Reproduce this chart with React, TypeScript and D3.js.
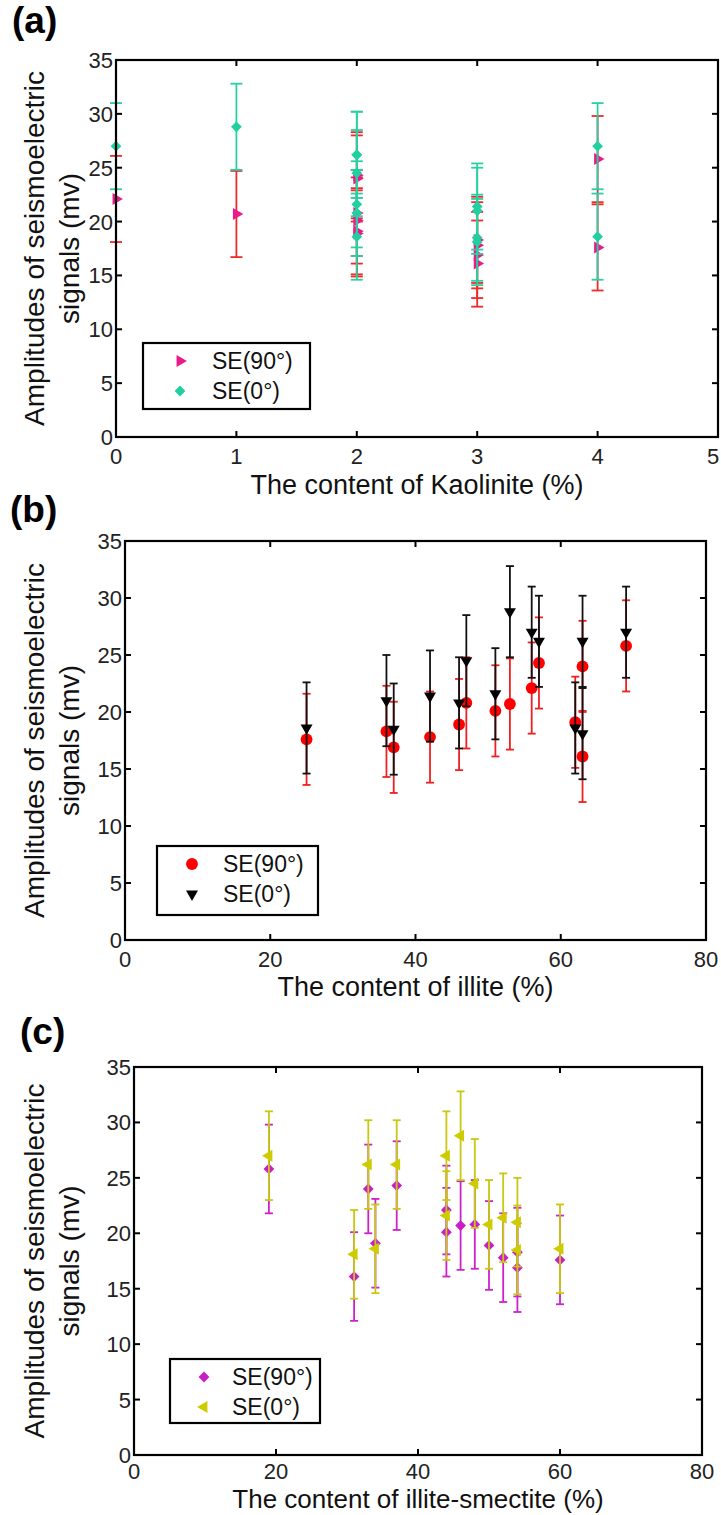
import React from "react";
import * as d3 from "d3";

const width = 721;
const height = 1515;

// 14 samples, the same measurements are plotted against three clay contents
const se90 = [17.6, 18.3, 16.9, 17.8, 18.9, 20.8, 20.1, 20.7, 22.1, 24.3, 19.1, 24.0, 16.1, 25.8];
const se0 = [18.6, 21.0, 18.5, 21.4, 20.8, 24.5, 21.6, 28.8, 27.0, 26.2, 18.6, 26.2, 18.1, 27.0];
const se90Err = [4, 4, 4, 4, 4, 4, 4, 4, 4, 4, 4, 4, 4, 4];
const se0Err = [4, 4, 4, 4, 4, 4, 4, 4, 4, 4, 4, 4, 4, 4];

const kaolinite = [4, 3, 3, 3, 2, 2, 2, 1, 0, 2, 2, 2, 3, 4];
const illite = [25, 36, 37, 42, 46, 47, 51, 53, 56, 57, 62, 63, 63, 69];
const illiteSmectite = [60, 54, 54, 52, 50, 48, 44, 46, 44, 37, 34, 33, 31, 19];

const yTicks = [0, 5, 10, 15, 20, 25, 30, 35];
const kaoliniteTicks = [0, 1, 2, 3, 4, 5];
const contentTicks = [0, 20, 40, 60, 80];
const legendLabels = ["SE(90°)", "SE(0°)"];

const font = "'Liberation Sans', Arial, sans-serif";

type Series = { values: number[]; err: number[]; marker: string; fill: string; errColor: string };

const panels = [
  {
    letter: "(a)", letterX: 12, letterY: 33,
    box: { left: 116, right: 718, top: 60, bottom: 437 },
    xDomain: [0, 5], xTicks: kaoliniteTicks, xs: kaolinite,
    title: "The content of Kaolinite (%)", tickDy: 27, titleDy: 57, titleSize: 27, cap: 12,
    series: [
      { values: se90, err: se90Err, marker: "right", fill: "#ea1a8a", errColor: "#ee2a2a" },
      { values: se0, err: se0Err, marker: "diamond", fill: "#22cfa0", errColor: "#2ad0a4" },
    ] as Series[],
    legend: { x: 143, y: 343, w: 167, h: 66, mx: 37, tx: 69 },
  },
  {
    letter: "(b)", letterX: 10, letterY: 522,
    box: { left: 125, right: 706, top: 541, bottom: 940 },
    xDomain: [0, 80], xTicks: contentTicks, xs: illite,
    title: "The content of illite (%)", tickDy: 27, titleDy: 56, titleSize: 27, cap: 8,
    series: [
      { values: se90, err: se90Err, marker: "circle", fill: "#ff0000", errColor: "#f02020" },
      { values: se0, err: se0Err, marker: "down", fill: "#000000", errColor: "#111111" },
    ] as Series[],
    legend: { x: 157, y: 846, w: 161, h: 69, mx: 35, tx: 66 },
  },
  {
    letter: "(c)", letterX: 20, letterY: 1044,
    box: { left: 134, right: 702, top: 1067, bottom: 1455 },
    xDomain: [0, 80], xTicks: contentTicks, xs: illiteSmectite,
    title: "The content of  illite-smectite (%)", tickDy: 24, titleDy: 53, titleSize: 26, cap: 8,
    series: [
      { values: se90, err: se90Err, marker: "diamond", fill: "#c81ec8", errColor: "#cc22cc" },
      { values: se0, err: se0Err, marker: "left", fill: "#cccc00", errColor: "#c8c810" },
    ] as Series[],
    legend: { x: 170, y: 1359, w: 150, h: 64, mx: 34, tx: 62 },
  },
];

function markerPath(kind: string) {
  if (kind === "circle") return d3.symbol(d3.symbolCircle, 110)()!;
  if (kind === "diamond") return d3.symbol(d3.symbolSquare, 58)()!;
  return d3.symbol(d3.symbolTriangle, 62)()!;
}

function markerRotation(kind: string) {
  if (kind === "diamond") return 45;
  if (kind === "right") return 90;
  if (kind === "down") return 180;
  if (kind === "left") return -90;
  return 0;
}

function Marker({ kind, x, y, fill }: { kind: string; x: number; y: number; fill: string }) {
  return (
    <path
      d={markerPath(kind)}
      transform={`translate(${x},${y}) rotate(${markerRotation(kind)})`}
      fill={fill}
    />
  );
}

function Panel({ p }: { p: (typeof panels)[number] }) {
  const { box } = p;
  const x = d3.scaleLinear().domain(p.xDomain).range([box.left, box.right]);
  const y = d3.scaleLinear().domain([0, 35]).range([box.bottom, box.top]);
  const tick = 6;
  const midY = (box.top + box.bottom) / 2;
  const midX = (box.left + box.right) / 2;

  return (
    <g>
      <text x={p.letterX} y={p.letterY} fontSize={37} fontWeight="bold" fontFamily={font}>
        {p.letter}
      </text>

      {/* error bars and markers */}
      {p.series.map((s, si) => (
        <g key={si}>
          {s.values.map((v, i) => {
            const cx = x(p.xs[i]);
            const hi = y(v + s.err[i]);
            const lo = y(v - s.err[i]);
            return (
              <g key={i} stroke={s.errColor} strokeWidth={1.8}>
                <line x1={cx} x2={cx} y1={hi} y2={lo} />
                <line x1={cx - p.cap / 2} x2={cx + p.cap / 2} y1={hi} y2={hi} />
                <line x1={cx - p.cap / 2} x2={cx + p.cap / 2} y1={lo} y2={lo} />
              </g>
            );
          })}
          {s.values.map((v, i) => (
            <Marker key={i} kind={s.marker} x={x(p.xs[i])} y={y(v)} fill={s.fill} />
          ))}
        </g>
      ))}

      {/* box with inward ticks on all sides */}
      <rect x={box.left} y={box.top} width={box.right - box.left} height={box.bottom - box.top}
        fill="none" stroke="#000" strokeWidth={2.2} />
      {p.xTicks.map((t) => (
        <g key={"x" + t} stroke="#000" strokeWidth={2}>
          <line x1={x(t)} x2={x(t)} y1={box.bottom} y2={box.bottom - tick} />
          <line x1={x(t)} x2={x(t)} y1={box.top} y2={box.top + tick} />
        </g>
      ))}
      {yTicks.map((t) => (
        <g key={"y" + t} stroke="#000" strokeWidth={2}>
          <line x1={box.left} x2={box.left + tick} y1={y(t)} y2={y(t)} />
          <line x1={box.right} x2={box.right - tick} y1={y(t)} y2={y(t)} />
        </g>
      ))}

      {/* tick labels (kept inside the page at the right edge) */}
      {p.xTicks.map((t) => (
        <text key={"xl" + t} x={Math.min(x(t), width - 8)} y={box.bottom + p.tickDy} textAnchor="middle"
          fontSize={22} fontFamily={font} fill="#222">
          {t}
        </text>
      ))}
      {yTicks.map((t) => (
        <text key={"yl" + t} x={box.left - 3} y={y(t) + 8} textAnchor="end" fontSize={22}
          fontFamily={font} fill="#222">
          {t}
        </text>
      ))}

      {/* axis titles */}
      <text x={midX} y={box.bottom + p.titleDy} textAnchor="middle" fontSize={p.titleSize}
        fontFamily={font} fill="#111">
        {p.title}
      </text>
      <text transform={`translate(44,${midY}) rotate(-90)`} textAnchor="middle" fontSize={28}
        fontFamily={font} fill="#111">
        Amplitudes of seismoelectric
      </text>
      <text transform={`translate(79,${midY}) rotate(-90)`} textAnchor="middle" fontSize={28}
        fontFamily={font} fill="#111">
        signals (mv)
      </text>

      {/* legend */}
      <g transform={`translate(${p.legend.x},${p.legend.y})`}>
        <rect width={p.legend.w} height={p.legend.h} fill="#fff" stroke="#000" strokeWidth={2.2} />
        {p.series.map((s, si) => (
          <g key={si}>
            <Marker kind={s.marker} x={p.legend.mx} y={18 + si * 30} fill={s.fill} />
            <text x={p.legend.tx} y={18 + si * 30 + 8} fontSize={23} fontFamily={font} fill="#111">
              {legendLabels[si]}
            </text>
          </g>
        ))}
      </g>
    </g>
  );
}

export default function App() {
  return (
    <svg width={width} height={height} style={{ position: "absolute", left: 0, top: 0, background: "#fff" }}>
      <rect width={width} height={height} fill="#fff" />
      {panels.map((p) => (
        <Panel key={p.letter} p={p} />
      ))}
    </svg>
  );
}
